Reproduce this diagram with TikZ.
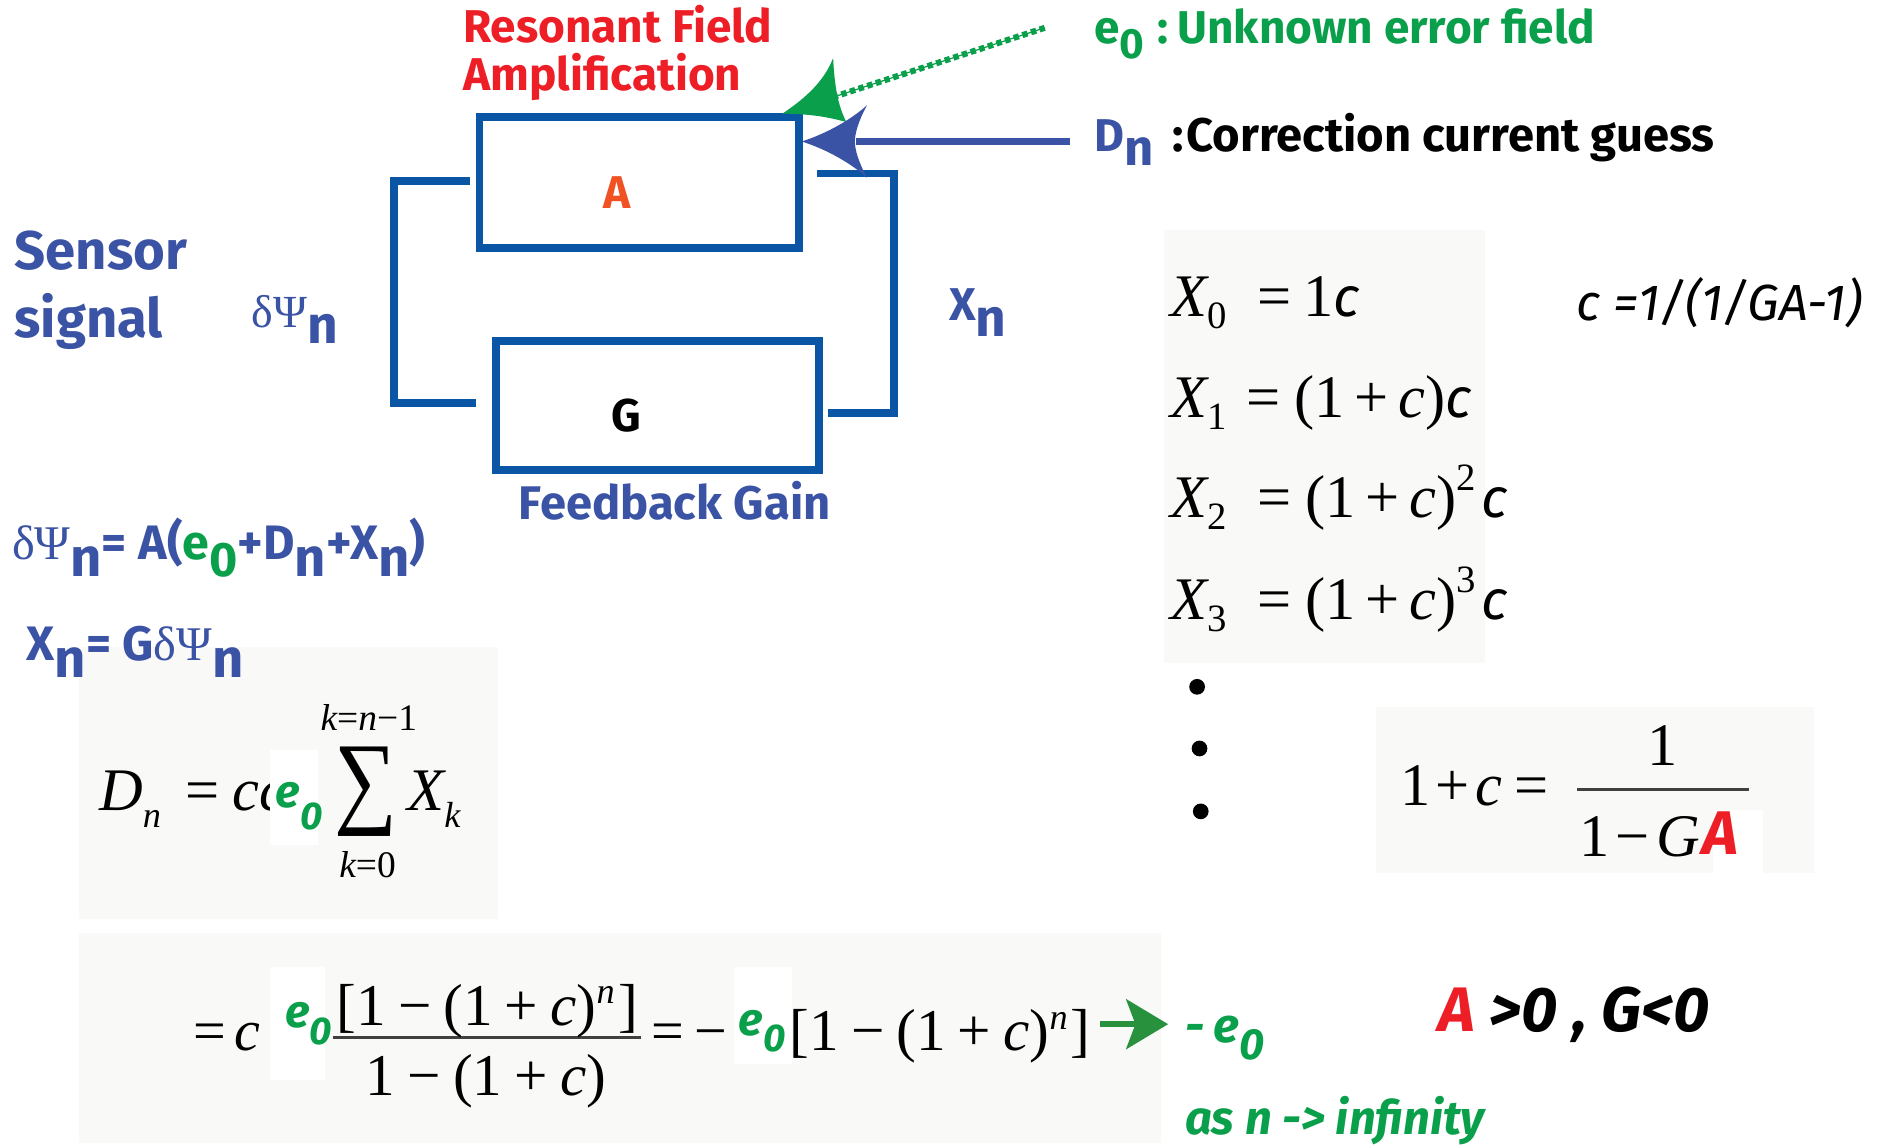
\documentclass[tikz,border=0pt]{standalone}
\usepackage{graphicx}
\usepackage{fontspec}
\setmainfont{Liberation Serif}
\newfontfamily\pts{Fira Sans}
\definecolor{rfred}{RGB}{237,30,38}
\definecolor{aorange}{RGB}{240,82,36}
\definecolor{egreen}{RGB}{10,160,75}
\definecolor{agreen}{RGB}{40,145,62}
\definecolor{tblue}{RGB}{58,83,164}
\definecolor{bblue}{RGB}{10,86,165}
\definecolor{patchc}{RGB}{249,249,247}
\newcommand{\fs}[1]{\fontsize{#1}{#1}\selectfont}
\newcommand{\gezero}[3]{{\pts\bfseries\itshape\color{egreen}\fs{#1}e\raisebox{-#3pt}{\fs{#2}0}}}
\newcommand{\sansc}{{\pts\itshape\fs{46}c}}
\newcommand{\ic}{{\itshape c}}
\newcommand{\mns}{\hspace{10pt}−\hspace{10pt}}
\newcommand{\pls}{\hspace{10pt}+\hspace{10pt}}
\newcommand{\xpls}{\hspace{8pt}+\hspace{8pt}}
\tikzset{
  lbl/.style={inner sep=0pt, outer sep=0pt, anchor=base west},
  lblc/.style={inner sep=0pt, outer sep=0pt, anchor=base},
  ctr/.style={inner sep=0pt, outer sep=0pt},
  sb/.style={font=\pts\bfseries\fs{#1}},
  blockbox/.style={draw=bblue, line width=6.5pt, inner sep=0pt, fill=none},
  wire/.style={draw=bblue, line width=6.5pt},
  whitepatch/.style={fill=white, draw=none, inner sep=0pt},
  fracbar/.style={draw=black!75, line width=2.2pt},
}
\begin{document}
\begin{tikzpicture}[x=1pt,y=-1pt]
\useasboundingbox[fill=white] (0,0) rectangle (1568,949);

% faint backgrounds of pasted formulas
\fill[patchc] (963,190) rectangle (1228,548);
\fill[patchc] (1138,585) rectangle (1500,722);
\fill[patchc] (65,535) rectangle (412,760);
\fill[patchc] (65,772) rectangle (960,945);

% titles
\node[lbl, sb=38, text=rfred] (rf1) at (383,35) {Resonant Field};
\node[lbl, sb=38, text=rfred] (rf2) at (383,75) {Amplification};
\node[lbl, sb=38, text=egreen] (e0lbl) at (905,36) {e\raisebox{-12pt}{\fs{35}0}\hspace{11pt}:\hspace{7pt}Unknown error field};
\node[lbl, sb=38, text=tblue] (dnlbl) at (905,125) {D\raisebox{-12pt}{\fs{42}n}};
\node[lbl, sb=39] (dntxt) at (970,125) {:\hspace{2pt}Correction current guess};

% blocks
\node[blockbox, minimum width=264pt, minimum height=108pt] (boxA) at (528.5,151) {};
\node[blockbox, minimum width=267pt, minimum height=107pt] (boxG) at (543.5,335.5) {};
\node[ctr, sb=38, text=aorange] (Alab) at (510,159) {A};
\node[ctr, sb=38] (Glab) at (518,344) {G};
\node[lbl, sb=39, text=tblue] (fbg) at (429,430) {Feedback Gain};

% loop wires
\coordinate (la) at (389,150);
\coordinate (lg) at (394,333);
\coordinate (ra) at (676,143.5);
\coordinate (rg) at (685,341.5);
\draw[wire] (la) -- ++(-63,0) |- (lg);
\draw[wire] (ra) -- ++(63,0) |- (rg);

% side labels
\node[lbl, sb=45, text=tblue] (sens1) at (12,223) {Sensor};
\node[lbl, sb=45, text=tblue] (sens2) at (12,279) {signal};
\node[lbl, text=tblue] (dpsi) at (208,271) {\fs{38}δΨ{\pts\bfseries\raisebox{-13pt}{\fs{44}n}}};
\node[lbl, sb=38, text=tblue] (xn) at (785,265) {X\raisebox{-13pt}{\fs{44}n}};

% e0 arrow (green, dotted)
\coordinate (e0src) at (864,23);
\coordinate (e0tail) at (690,80);
\draw[egreen, line width=1pt] (e0src) -- (e0tail);
\draw[egreen, line width=5pt, dash pattern=on 4.5pt off 3pt] (e0src) -- (e0tail);
\fill[egreen] (647,94) .. controls (668,80) and (682,66) .. (689,48)
  .. controls (690,70) and (693,88) .. (700,101)
  .. controls (683,96) and (665,94) .. (647,94) -- cycle;

% Dn arrow (blue)
\coordinate (dnsrc) at (885,117);
\coordinate (dntail) at (708,117);
\draw[tblue, line width=6pt] (dnsrc) -- (dntail);
\fill[tblue] (663,117) .. controls (685,110) and (705,98) .. (717,87)
  .. controls (710,100) and (707,110) .. (707,117)
  .. controls (707,124) and (710,134) .. (717,147)
  .. controls (705,136) and (685,124) .. (663,117) -- cycle;

% left equations
\node[lbl, text=tblue] (eq1) at (10,463) {\fs{40}δΨ{\pts\bfseries\raisebox{-14pt}{\fs{45}n}= A(\textcolor{egreen}{e\raisebox{-14pt}{\fs{40}0}}+D\raisebox{-14pt}{\fs{45}n}+X\raisebox{-14pt}{\fs{45}n})}};
\node[lbl, text=tblue] (eq2) at (22,546) {\fs{40}{\pts\bfseries X\raisebox{-14pt}{\fs{45}n}= G}δΨ{\pts\bfseries\raisebox{-14pt}{\fs{45}n}}};

% Dn sum formula
\node[lbl] (dnf) at (82,670) {\fs{50}{\itshape D}\raisebox{-14pt}{\fs{30}\itshape n}\hspace{20pt}=\hspace{11pt}\ic\ic};
\node[ctr] (sigma) at (303,655) {\resizebox*{52pt}{74pt}{\fs{80}∑}};
\node[lblc] (suptop) at (305,604) {\fs{31}{\itshape k}={\itshape n}−1};
\node[lblc] (subbot) at (304,726) {\fs{31}{\itshape k}=0};
\node[lbl] (xk) at (337,670) {\fs{50}{\itshape X}\raisebox{-14pt}{\fs{30}\itshape k}};
\node[whitepatch, minimum width=40pt, minimum height=79pt] (wp1) at (243,659.5) {};
\node[lbl] (ge1) at (228,668) {\gezero{38}{32}{18}};

% X sequence
\node[lbl] (x0) at (968,262) {\fs{50}{\itshape X}\raisebox{-10pt}{\fs{32}0}\hspace{25pt}=\hspace{10pt}1\sansc};
\node[lbl] (x1) at (968,345) {\fs{50}{\itshape X}\raisebox{-10pt}{\fs{32}1}\hspace{16pt}=\hspace{12pt}(1\xpls\ic)\sansc};
\node[lbl] (x2) at (968,428) {\fs{50}{\itshape X}\raisebox{-10pt}{\fs{32}2}\hspace{25pt}=\hspace{12pt}(1\xpls\ic)\raisebox{22pt}{\fs{32}2}\hspace{5pt}\sansc};
\node[lbl] (x3) at (968,512) {\fs{50}{\itshape X}\raisebox{-10pt}{\fs{32}3}\hspace{25pt}=\hspace{12pt}(1\xpls\ic)\raisebox{22pt}{\fs{32}3}\hspace{5pt}\sansc};
\fill (990,568) circle (6.5);
\fill (992,619) circle (6.5);
\fill (993,671) circle (6.5);

% c definition
\node[lbl, font=\pts\itshape\fs{42}] (cdef) at (1304,265) {c =1/(1/GA-1)};

% 1+c fraction
\node[lbl] (opc) at (1158,666) {\fs{50}1\hspace{4pt}+\hspace{5pt}\ic\hspace{10pt}=};
\coordinate (barL) at (1304,653);
\coordinate (barR) at (1446,653);
\draw[fracbar] (barL) -- (barR);
\node[lblc] (num1) at (1375,633) {\fs{50}1};
\node[lbl] (den1) at (1306,708) {\fs{50}1\hspace{5pt}−\hspace{6pt}{\itshape G}};
\node[whitepatch, minimum width=41pt, minimum height=52pt] (wp4) at (1437.5,696) {};
\node[lbl, font=\pts\bfseries\itshape\fs{51}, text=rfred] (redA) at (1408,707) {A};

% signs
\node[lbl, font=\pts\bfseries\itshape\fs{52}] (signs) at (1190,853) {\textcolor{rfred}{A} >0 , G<0};

% bottom formula
\node[lbl] (b1) at (160,869) {\fs{48}=\hspace{7pt}\ic};
\coordinate (bbarL) at (275,858);
\coordinate (bbarR) at (530,858);
\draw[fracbar] (bbarL) -- (bbarR);
\node[lblc] (bnum) at (403,848) {\fs{49}[1\mns(1\pls\ic)\raisebox{18pt}{\fs{30}\itshape n}\hspace{3pt}]};
\node[lblc] (bden) at (402,906) {\fs{49}1\mns(1\pls\ic)};
\node[lbl] (b3) at (539,869) {\fs{48}=\hspace{8pt}−};
\node[lbl] (b4) at (653,869) {\fs{49}[1\mns(1\pls\ic)\raisebox{18pt}{\fs{30}\itshape n}\hspace{2pt}]};
\node[whitepatch, minimum width=46pt, minimum height=93pt] (wp2) at (246,846.5) {};
\node[whitepatch, minimum width=48pt, minimum height=80pt] (wp3) at (631,840) {};
\node[lbl] (ge2) at (236,850) {\gezero{38}{32}{14}};
\node[lbl] (ge3) at (611,856) {\gezero{38}{32}{14}};

% limit arrow
\coordinate (limsrc) at (910,847);
\coordinate (limtip) at (966,847);
\draw[agreen, line width=4.5pt] (limsrc) -- (940,847);
\fill[agreen] (limtip) -- (931,826) -- (939,847) -- (931,868) -- cycle;
\node[lbl, font=\pts\bfseries\itshape\fs{40}, text=egreen] (mine0) at (980,862) {-\hspace{8pt}e\raisebox{-14pt}{\fs{36}0}};
\node[lbl, font=\pts\bfseries\itshape\fs{39}, text=egreen] (asn) at (980,938) {as n -> infinity};
\end{tikzpicture}
\end{document}
